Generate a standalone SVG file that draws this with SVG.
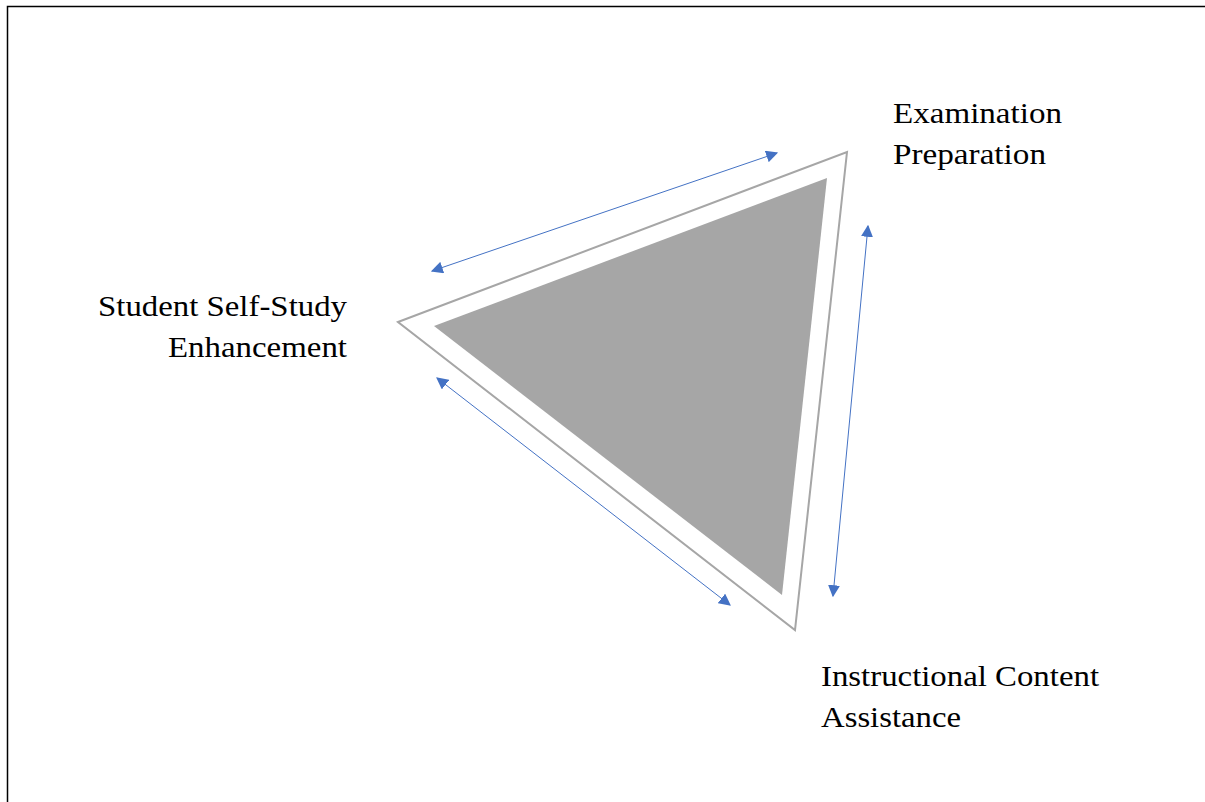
<svg xmlns="http://www.w3.org/2000/svg" width="1205" height="802" viewBox="0 0 1205 802">
<style>
.lbl{font-family:"Liberation Serif","Times New Roman",serif;font-size:29px;fill:#000}
.conn{stroke:#4472c4;stroke-width:1;fill:none;marker-start:url(#ah);marker-end:url(#ah)}
</style>
<defs>
<marker id="ah" viewBox="0 0 10 10" refX="9" refY="5" markerWidth="12" markerHeight="12" markerUnits="userSpaceOnUse" orient="auto-start-reverse">
<path d="M0,0 L10,5 L0,10 Z" fill="#4472c4"/>
</marker>
</defs>
<rect width="1205" height="802" fill="#fff"/>
<path d="M7.5,802 V6.5 H1205" fill="none" stroke="#000" stroke-width="1.5"/>
<g id="triangle">
<polygon points="398,322 847,152 795,630" fill="#fff" stroke="#a6a6a6" stroke-width="2"/>
<polygon points="434,326 827,178 782,595" fill="#a6a6a6"/>
</g>
<g id="connectors">
<line class="conn" x1="432" y1="271" x2="777" y2="153"/>
<line class="conn" x1="437" y1="378" x2="730" y2="605"/>
<line class="conn" x1="868" y1="226" x2="833" y2="596"/>
</g>
<g id="node-exam">
<text class="lbl" x="893" y="123" textLength="169" lengthAdjust="spacingAndGlyphs">Examination</text>
<text class="lbl" x="893" y="164" textLength="153" lengthAdjust="spacingAndGlyphs">Preparation</text>
</g>
<g id="node-self">
<text class="lbl" x="98" y="316" textLength="249" lengthAdjust="spacingAndGlyphs">Student Self-Study</text>
<text class="lbl" x="168" y="357" textLength="179" lengthAdjust="spacingAndGlyphs">Enhancement</text>
</g>
<g id="node-instr">
<text class="lbl" x="821" y="686" textLength="278" lengthAdjust="spacingAndGlyphs">Instructional Content</text>
<text class="lbl" x="821" y="727" textLength="140" lengthAdjust="spacingAndGlyphs">Assistance</text>
</g>
</svg>
